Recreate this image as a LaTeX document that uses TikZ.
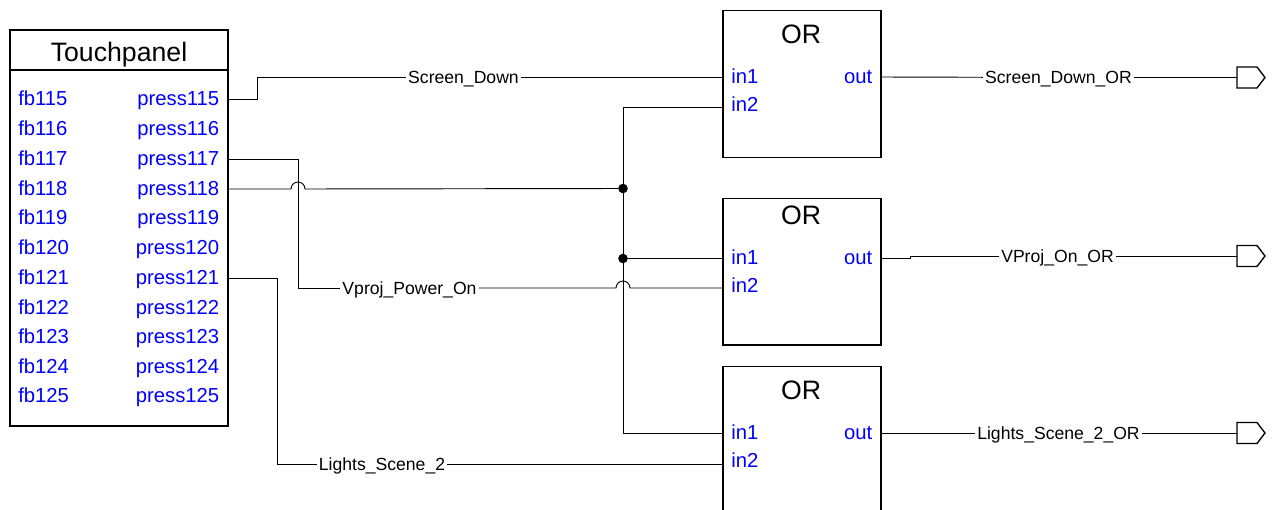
\documentclass[tikz,border=0pt]{standalone}
\usepackage{fontspec}
\setmainfont{Liberation Sans}
\tikzset{
  blockbox/.style={draw, line width=1pt, outer sep=0pt, inner sep=0pt},
  orblock/.style={blockbox, minimum width=118.5pt, minimum height=110pt},
  blocktitle/.style={font=\fontsize{20}{22}\selectfont, inner sep=0pt},
  pinlabel/.style={font=\fontsize{15.2}{17}\selectfont, text=blue, inner sep=0pt, text height=9.2pt, text depth=0pt},
  netlabel/.style={font=\fontsize{13.2}{15}\selectfont, inner sep=1.5pt, text height=9.4pt, text depth=0pt},
  wire/.style={line width=0.7pt},
  joint/.style={circle, fill=black, inner sep=0pt, minimum size=7.2pt},
  port/.style={line width=1pt, fill=white}
}
\begin{document}
\begin{tikzpicture}[x=0.75pt, y=-0.75pt]
    \useasboundingbox (0,0) rectangle (1272,510);
    \clip (0,0) rectangle (1272,510);

    % Touchpanel
    \node[blockbox, minimum width=163.5pt, minimum height=297pt] (panel) at (119,228) {};
    \node[blocktitle] (paneltitle) at (119,54.5) {Touchpanel};
    \coordinate (titlebar) at (119,70);
    \draw[line width=1pt] (panel.west |- titlebar) -- (panel.east |- titlebar);
    \foreach \n/\y in {115/99,116/129,117/159,118/189,119/218,120/248,121/278,122/308,123/337,124/367,125/396} {
      \node[pinlabel, anchor=west] (fb\n) at (18,\y) {fb\n};
      \node[pinlabel, anchor=east] (press\n) at (219.5,\y) {press\n};
    }

    % OR 1
    \node[orblock] (ora) at (802,84) {};
    \node[blocktitle] (oratitle) at (801,34) {OR};
    \node[pinlabel, anchor=west] (inaa) at (731,77) {in1};
    \node[pinlabel, anchor=west] (inab) at (731,105) {in2};
    \node[pinlabel, anchor=east] (outa) at (872.5,77) {out};

    % OR 2
    \node[orblock] (orb) at (802,271.5) {};
    \node[blocktitle] (orbtitle) at (801,215) {OR};
    \node[pinlabel, anchor=west] (inba) at (731,258) {in1};
    \node[pinlabel, anchor=west] (inbb) at (731,286) {in2};
    \node[pinlabel, anchor=east] (outb) at (872.5,258) {out};

    % OR 3, runs off the bottom edge
    \node[orblock] (orc) at (802,440) {};
    \node[blocktitle] (orctitle) at (801,390) {OR};
    \node[pinlabel, anchor=west] (inca) at (731,433) {in1};
    \node[pinlabel, anchor=west] (incb) at (731,461) {in2};
    \node[pinlabel, anchor=east] (outc) at (872.5,433) {out};

    % signal names
    \node[netlabel] (screendown) at (463.5,77) {Screen\_Down};
    \node[netlabel] (vprojpower) at (409.5,288) {Vproj\_Power\_On};
    \node[netlabel] (lightsscene) at (382,464) {Lights\_Scene\_2};
    \node[netlabel] (screendownor) at (1058.5,77.5) {Screen\_Down\_OR};
    \node[netlabel] (vprojor) at (1057.5,256) {VProj\_On\_OR};
    \node[netlabel] (lightsor) at (1058.5,433) {Lights\_Scene\_2\_OR};

    % output terminals
    \coordinate (terma) at (1237,77.5);
    \coordinate (termb) at (1237,256);
    \coordinate (termc) at (1237,433);

    % junctions and bends
    \node[joint] (jointa) at (623,188.5) {};
    \node[joint] (jointb) at (623,258.5) {};
    \coordinate (busa) at (623,107);
    \coordinate (busb) at (623,433);
    \coordinate (bendv) at (298,288);
    \coordinate (bendl) at (277,464);
    \coordinate (hoppress) at (298,189);
    \coordinate (hopvproj) at (623,288);

    % Screen_Down
    \draw[wire] (panel.east |- press115) -- (257,99) -- (257,77) -- (screendown);
    \draw[wire] (screendown) -- (ora.west |- inaa);
    \draw[wire] (ora.east |- outa) -- (screendownor);
    \draw[wire] (screendownor) -- (terma |- screendownor);

    % press118 and the common line
    \draw[wire] (panel.east |- press118) -- ([xshift=-5.25pt]hoppress) arc[start angle=180, end angle=360, radius=7] -- (jointa);
    \draw[wire] (ora.west |- busa) -- (busa) -- (busb) -- (orc.west |- inca);
    \draw[wire] (jointb) -- (657,258.5) -- (657,258) -- (orb.west |- inba);

    % Vproj_Power_On
    \draw[wire] (panel.east |- press117) -| (bendv) -- (vprojpower);
    \draw[wire] (vprojpower) -- ([xshift=-5.25pt]hopvproj) arc[start angle=180, end angle=360, radius=7] -- (orb.west |- hopvproj);
    \draw[wire] (orb.east |- outb) -- (910,258) -- (910,256) -- (vprojor);
    \draw[wire] (vprojor) -- (termb);

    % Lights_Scene_2
    \draw[wire] (panel.east |- press121) -| (bendl) -- (lightsscene);
    \draw[wire] (lightsscene) -- (orc.west |- bendl);
    \draw[wire] (orc.east |- outc) -- (lightsor);
    \draw[wire] (lightsor) -- (termc);

    \foreach \t in {terma,termb,termc} {
      \draw[port] (\t) -- ++(0,-10.5) -- ++(20,0) -- ++(8,10.5) -- ++(-8,10.5) -- ++(-20,0) -- cycle;
    }
\end{tikzpicture}
\end{document}
